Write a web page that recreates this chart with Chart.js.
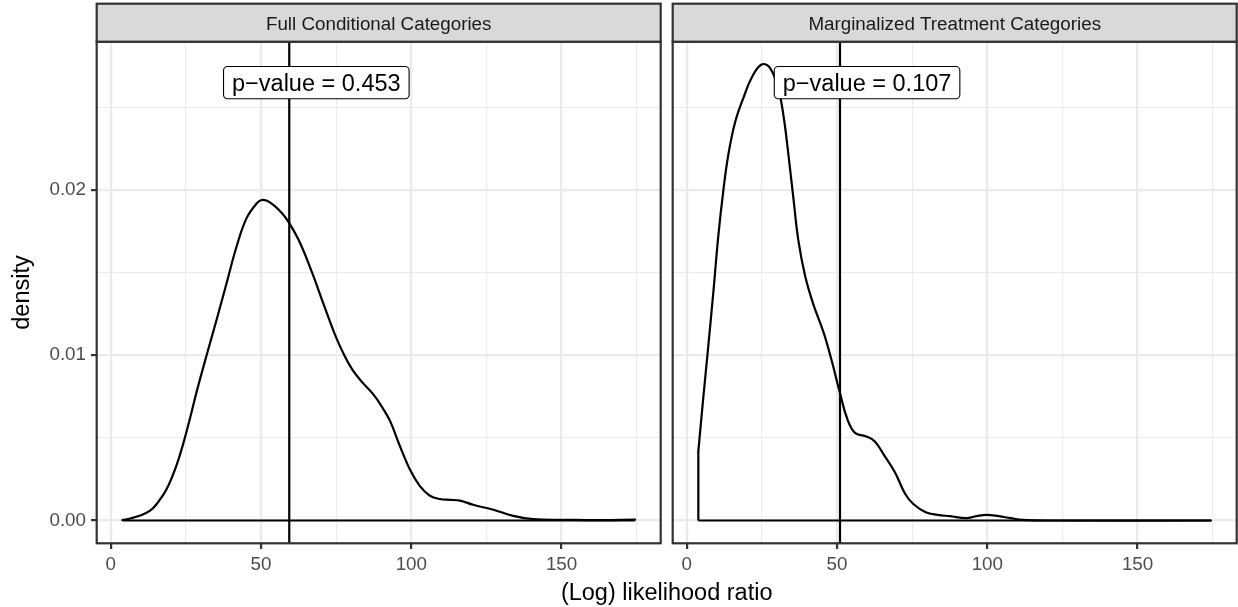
<!DOCTYPE html>
<html><head><meta charset="utf-8">
<script src="https://cdn.jsdelivr.net/npm/chart.js@4.4.1/dist/chart.umd.min.js"></script>
<style>
html,body{margin:0;padding:0;background:#fff;}
#wrap{position:relative;width:1238px;height:607px;overflow:hidden;background:#fff;}
canvas{position:absolute;top:0;}
#xtitle{position:absolute;left:366.7px;width:600px;top:580.5px;text-align:center;font:23.5px/23.5px 'Liberation Sans',Arial,sans-serif;color:#000;white-space:nowrap;}
</style></head><body>
<div id="wrap">
<canvas id="c1" width="666" height="607" style="left:0"></canvas>
<canvas id="c2" width="572" height="607" style="left:666px"></canvas>
<div id="xtitle">(Log) likelihood ratio</div>
</div>
<script>
// ---- data ----
const panelTitles = ['Full Conditional Categories', 'Marginalized Treatment Categories'];
const fullX = [3.87, 6.5, 9.8, 13.1, 15.3, 18.6, 22.0, 24.2, 26.4, 28.6, 31.9, 35.3, 38.6, 41.9, 45.2, 48.6, 50.2, 52.0, 54.1, 57.0, 59.4, 63.0, 67.0, 71.0, 74.5, 77.7, 80.5, 84.0, 87.5, 90.5, 93.0, 96.0, 99.5, 102.8, 106.2, 109.5, 113.0, 116.2, 120.6, 127.3, 133.9, 140.6, 151.7, 162.8, 174.44];
const fullY = [0.00003, 0.00012, 0.00030, 0.00060, 0.00100, 0.0019, 0.0034, 0.0047, 0.0062, 0.0078, 0.0100, 0.0122, 0.0144, 0.0166, 0.0183, 0.0192, 0.0194, 0.01935, 0.0191, 0.0186, 0.0180, 0.0168, 0.0150, 0.0130, 0.0113, 0.0100, 0.0091, 0.0083, 0.0076, 0.0068, 0.0060, 0.0046, 0.0031, 0.0021, 0.0015, 0.0013, 0.00125, 0.0012, 0.00095, 0.00065, 0.00028, 0.00008, 0.00004, 0.00002, 0.00005];
const margX = [3.87, 5.5, 7.2, 8.9, 10.5, 12.2, 13.9, 16.1, 18.9, 21.6, 24.9, 27.7, 30.5, 32.2, 33.8, 35.5, 37.1, 39.4, 42.1, 45.5, 48.2, 51.0, 53.5, 56.0, 59.5, 62.5, 65.5, 69.3, 72.7, 75.4, 79.5, 83.5, 87.6, 93.0, 96.4, 99.7, 103.8, 107.8, 111.9, 120, 174.44];
const margY = [0.0042, 0.0074, 0.0106, 0.0139, 0.0172, 0.0200, 0.0222, 0.0241, 0.0256, 0.0268, 0.0276, 0.0274, 0.0261, 0.0245, 0.0222, 0.0195, 0.0170, 0.0148, 0.0131, 0.0114, 0.0097, 0.0077, 0.0061, 0.0053, 0.0051, 0.0048, 0.0040, 0.0029, 0.0016, 0.0010, 0.0005, 0.00034, 0.00026, 0.00014, 0.00026, 0.00034, 0.00026, 0.00014, 0.00004, 0.0, 0.0];
const supportRange = [3.87, 174.44];
const observed = [59.4, 51.0];
const pLabels = ['p\u2212value = 0.453', 'p\u2212value = 0.107'];
const labelX = [68.4, 60.0];
const labelY = [0.0265, 0.0265];
const xTicks = [0, 50, 100, 150];
const xTickLabels = ['0', '50', '100', '150'];
const xMinor = [25, 75, 125, 175];
const yTicks = [0, 0.01, 0.02];
const yTickLabels = ['0.00', '0.01', '0.02'];
const yMinor = [0.005, 0.015, 0.025];
const xRange = [-4.66, 182.97];
const yRange = [-0.00138, 0.02898];

// ---- styling ----
const FAM = "'Liberation Sans', Arial, sans-serif";
const SMALL = 18.8, LARGE = 23.5;
const LW = 2.2;

function pts(xs, ys) { return xs.map((x, i) => ({x: x, y: ys[i]})); }
function near(a, b) { return Math.abs(a - b) < 1e-9; }
function findIdx(arr, v) { for (let i = 0; i < arr.length; i++) if (near(arr[i], v)) return i; return -1; }
const xAll = xTicks.concat(xMinor).sort((a, b) => a - b);
const yAll = yTicks.concat(yMinor).sort((a, b) => a - b);

function panelPlugin(idx) {
  return {
    id: 'panel' + idx,
    afterDatasetsDraw(chart) {
      const ctx = chart.ctx, a = chart.chartArea, x = chart.scales.x, y = chart.scales.y;
      ctx.save();
      // observed statistic line
      const vx = x.getPixelForValue(observed[idx]);
      ctx.strokeStyle = '#000'; ctx.lineWidth = LW;
      ctx.beginPath(); ctx.moveTo(vx, a.top); ctx.lineTo(vx, a.bottom); ctx.stroke();
      // label
      ctx.font = LARGE + 'px ' + FAM;
      const tw = ctx.measureText(pLabels[idx]).width;
      const cx = x.getPixelForValue(labelX[idx]), cy = y.getPixelForValue(labelY[idx]);
      const w = tw + 17, h = 32.3, r = 4;
      const l = cx - w / 2, t = cy - h / 2;
      ctx.beginPath();
      ctx.moveTo(l + r, t);
      ctx.arcTo(l + w, t, l + w, t + h, r);
      ctx.arcTo(l + w, t + h, l, t + h, r);
      ctx.arcTo(l, t + h, l, t, r);
      ctx.arcTo(l, t, l + w, t, r);
      ctx.closePath();
      ctx.fillStyle = '#fff'; ctx.fill();
      ctx.lineWidth = 1.1; ctx.strokeStyle = '#000'; ctx.stroke();
      ctx.fillStyle = '#000'; ctx.textAlign = 'center'; ctx.textBaseline = 'alphabetic';
      ctx.fillText(pLabels[idx], cx, cy + 8.8);
      // panel border
      ctx.strokeStyle = '#333333'; ctx.lineWidth = LW;
      ctx.strokeRect(a.left, a.top, a.right - a.left, a.bottom - a.top);
      // strip
      const st = 3.7;
      ctx.fillStyle = '#D9D9D9';
      ctx.fillRect(a.left, st, a.right - a.left, a.top - st);
      ctx.strokeRect(a.left, st, a.right - a.left, a.top - st);
      ctx.fillStyle = '#1A1A1A'; ctx.font = SMALL + 'px ' + FAM;
      ctx.textAlign = 'center'; ctx.textBaseline = 'alphabetic';
      ctx.fillText(panelTitles[idx], (a.left + a.right) / 2, 30);
      ctx.restore();
    }
  };
}

function curveSet(data) {
  return {data: data, borderColor: '#000', borderWidth: LW, pointRadius: 0, fill: false, tension: 0.4, borderJoinStyle: 'round', borderCapStyle: 'round'};
}
function straightSet(data) {
  return {data: data, borderColor: '#000', borderWidth: LW, pointRadius: 0, fill: false, tension: 0, borderCapStyle: 'butt'};
}

function makeChart(id, idx, datasets, showY, pad) {
  const majorX = v => findIdx(xTicks, v) >= 0;
  const majorY = v => findIdx(yTicks, v) >= 0;
  return new Chart(document.getElementById(id), {
    type: 'line',
    data: {datasets: datasets},
    options: {
      responsive: false, animation: false, devicePixelRatio: 1, events: [],
      layout: {padding: pad},
      plugins: {legend: {display: false}, tooltip: {enabled: false}},
      scales: {
        x: {
          type: 'linear', min: xRange[0], max: xRange[1],
          afterBuildTicks: s => { s.ticks = xAll.map(v => ({value: v})); },
          afterFit: s => { s.height = 607 - 543.3; },
          border: {display: false},
          grid: {
            color: '#EBEBEB',
            lineWidth: c => (c.tick && majorX(c.tick.value)) ? LW : 1.1,
            drawTicks: true, tickLength: 5.7, tickWidth: LW,
            tickColor: c => (c.tick && majorX(c.tick.value)) ? '#333333' : 'rgba(0,0,0,0)'
          },
          ticks: {
            autoSkip: false, maxRotation: 0, minRotation: 0, padding: 4.5, color: '#4D4D4D',
            font: {family: FAM, size: SMALL},
            callback: v => { const i = findIdx(xTicks, v); return i >= 0 ? xTickLabels[i] : ''; }
          }
        },
        y: {
          type: 'linear', min: yRange[0], max: yRange[1],
          afterBuildTicks: s => { s.ticks = yAll.map(v => ({value: v})); },
          afterFit: s => { s.width = showY ? 96.7 : 0; },
          border: {display: false},
          title: {display: showY, text: 'density', color: '#000', font: {family: FAM, size: LARGE}, padding: {top: 8.4, bottom: 0}},
          grid: {
            color: '#EBEBEB',
            lineWidth: c => (c.tick && majorY(c.tick.value)) ? LW : 1.1,
            drawTicks: showY, tickLength: 5.7, tickWidth: LW,
            tickColor: c => (c.tick && majorY(c.tick.value)) ? '#333333' : 'rgba(0,0,0,0)'
          },
          ticks: {
            display: showY, autoSkip: false, padding: 5, color: '#4D4D4D',
            font: {family: FAM, size: SMALL},
            callback: v => { const i = findIdx(yTicks, v); return i >= 0 ? yTickLabels[i] : ''; }
          }
        }
      }
    },
    plugins: [panelPlugin(idx)]
  });
}

const base = [{x: supportRange[0], y: 0}, {x: supportRange[1], y: 0}];
makeChart('c1', 0, [
  curveSet(pts(fullX, fullY)),
  straightSet(base)
], true, {left: 0, right: 666 - 660.7, top: 41.7, bottom: 0});

makeChart('c2', 1, [
  straightSet([{x: margX[0], y: 0}, {x: margX[0], y: margY[0]}]),
  curveSet(pts(margX, margY)),
  straightSet(base)
], false, {left: 672.7 - 666, right: 572 - 570.7, top: 41.7, bottom: 0});
</script>
</body></html>
